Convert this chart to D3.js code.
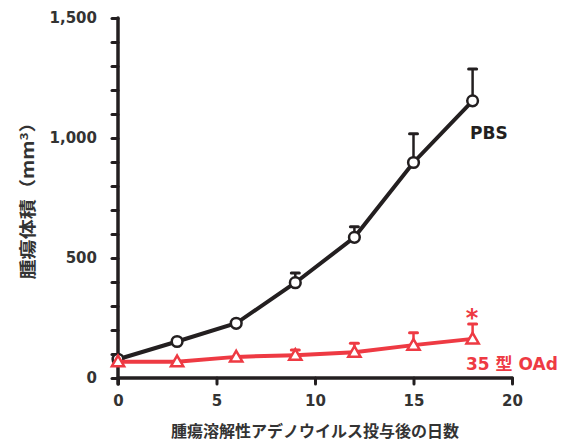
<!DOCTYPE html>
<html>
<head>
<meta charset="utf-8">
<script src="https://d3js.org/d3.v7.min.js"></script>
<style>
    body { margin: 0; background: #fff; }
    text { font-family: "DejaVu Sans", "Noto Sans CJK JP", sans-serif; font-weight: bold; }
    .jp { font-family: "Noto Sans CJK JP", sans-serif; }
</style>
</head>
<body>
<svg id="vis"></svg>
<script>
    var width = 566,
        height = 443;

    // data
    var days = [0, 3, 6, 9, 12, 15, 18];
    var pbsMean = [78, 152, 228, 397, 586, 898, 1155];
    var pbsErr = [0, 0, 0, 40, 44, 120, 132];
    var oadMean = [68, 68, 88, 95, 107, 137, 163];
    var oadErr = [0, 0, 0, 22, 38, 52, 62];
    var xTicks = [0, 5, 10, 15, 20];
    var yTicks = [0, 500, 1000, 1500];

    var ink = "#231f20",
        red = "#ee3a43";

    var svg = d3.select("#vis").attr("width", width).attr("height", height);

    var x = d3.scaleLinear().domain([0, 20]).range([118, 512]);
    var y = d3.scaleLinear().domain([0, 1500]).range([378, 18]);

    // y axis
    var yAxis = svg.append("g")
        .attr("transform", "translate(" + x(0) + ",0)")
        .call(d3.axisLeft(y).tickValues(d3.range(0, 1501, 100)).tickSize(6)
            .tickFormat(d => yTicks.indexOf(d) >= 0 ? d3.format(",")(d) : ""));
    yAxis.select(".domain").remove();
    yAxis.selectAll(".tick line").attr("stroke", ink).attr("stroke-width", 3).attr("stroke-linecap", "round");
    yAxis.selectAll(".tick text").attr("x", -21).attr("fill", "#333").style("font-size", "15px");

    // x axis
    var xAxis = svg.append("g")
        .attr("transform", "translate(0," + y(0) + ")")
        .call(d3.axisBottom(x).tickValues(xTicks).tickSize(6));
    xAxis.select(".domain").remove();
    xAxis.selectAll(".tick line").attr("stroke", ink).attr("stroke-width", 3).attr("stroke-linecap", "round");
    xAxis.selectAll(".tick text").attr("y", 17).attr("fill", "#333").style("font-size", "15px");

    // axis lines
    svg.append("line").attr("x1", x(0)).attr("x2", x(0)).attr("y1", y(1500)).attr("y2", y(0) + 6)
        .attr("stroke", ink).attr("stroke-width", 3.5).attr("stroke-linecap", "round");
    svg.append("line").attr("x1", x(0)).attr("x2", x(20)).attr("y1", y(0)).attr("y2", y(0))
        .attr("stroke", ink).attr("stroke-width", 3.5).attr("stroke-linecap", "round");

    // axis titles
    svg.append("text")
        .attr("class", "jp")
        .attr("x", 315).attr("y", 437)
        .attr("text-anchor", "middle")
        .attr("fill", "#333")
        .style("font-size", "16px")
        .text("腫瘍溶解性アデノウイルス投与後の日数");

    var yt = svg.append("text")
        .attr("class", "jp")
        .attr("transform", "translate(34,196) rotate(-90)")
        .attr("text-anchor", "middle")
        .attr("fill", "#333")
        .attr("textLength", 167)
        .attr("lengthAdjust", "spacingAndGlyphs")
        .style("font-size", "17px");
    yt.append("tspan").text("腫瘍体積（mm");
    yt.append("tspan").attr("dy", -6).style("font-size", "11px").text("3");
    yt.append("tspan").attr("dy", 6).text("）");

    var line = d3.line().x(d => x(d[0])).y(d => y(d[1]));

    function drawSeries(mean, err, color, marker) {
        var pts = days.map((d, i) => [d, mean[i], err[i]]);
        var g = svg.append("g");
        // upper error bars
        pts.filter(p => p[2] > 0).forEach(p => {
            g.append("line").attr("x1", x(p[0])).attr("x2", x(p[0]))
                .attr("y1", y(p[1])).attr("y2", y(p[1] + p[2]))
                .attr("stroke", color).attr("stroke-width", 2.5);
            g.append("line").attr("x1", x(p[0]) - 4).attr("x2", x(p[0]) + 4)
                .attr("y1", y(p[1] + p[2])).attr("y2", y(p[1] + p[2]))
                .attr("stroke", color).attr("stroke-width", 3).attr("stroke-linecap", "round");
        });
        g.append("path").datum(pts).attr("d", line)
            .attr("fill", "none").attr("stroke", color).attr("stroke-width", 4);
        var sym = d3.symbol().type(marker === "circle" ? d3.symbolCircle : d3.symbolTriangle)
            .size(marker === "circle" ? 90 : 65);
        g.selectAll(".m").data(pts).enter().append("path")
            .attr("transform", p => "translate(" + x(p[0]) + "," + (y(p[1]) + (marker === "circle" ? 0 : 1)) + ")")
            .attr("d", sym)
            .attr("fill", "#fff").attr("stroke", color).attr("stroke-width", 2.5);
    }

    drawSeries(pbsMean, pbsErr, ink, "circle");
    drawSeries(oadMean, oadErr, red, "triangle");

    // series labels
    svg.append("text").attr("x", 470).attr("y", 139).attr("fill", ink)
        .style("font-size", "17px").text("PBS");
    svg.append("text").attr("x", 466).attr("y", 370).attr("fill", red)
        .style("font-size", "17px").text("35 型 OAd");
    svg.append("text").attr("x", 472).attr("y", 326).attr("text-anchor", "middle").attr("fill", red)
        .style("font-size", "24px").text("*");
</script>
</body>
</html>
